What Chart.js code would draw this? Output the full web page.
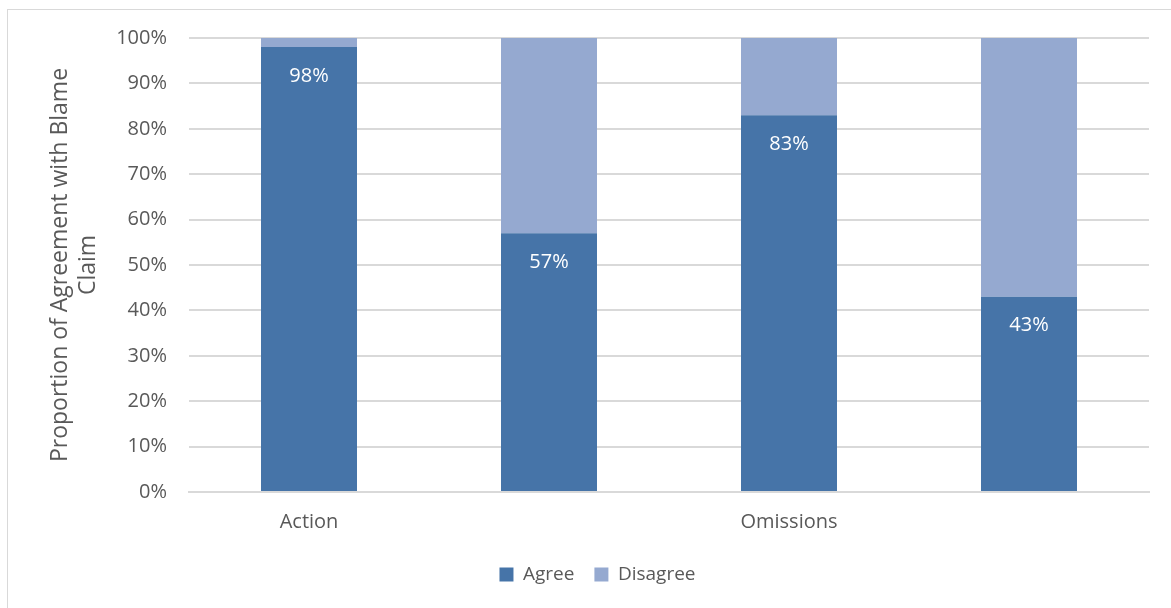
<!DOCTYPE html>
<html>
<head>
<meta charset="utf-8">
<script src="https://cdn.jsdelivr.net/npm/chart.js@4/dist/chart.umd.min.js"></script>
<style>
    body { margin: 0; background: #fff; overflow: hidden; }
    #frame { position: absolute; left: 7px; top: 9px; width: 1180px; height: 620px; border: 1px solid #d9d9d9; }
    #wrap { position: absolute; left: 0; top: 0; width: 1171px; height: 608px; }
</style>
</head>
<body>
<div id="frame"></div>
<div id="wrap"><canvas id="chart"></canvas></div>
<script>
const categories = ['Action', '', 'Omissions', ''];
const agreeValues = [98, 57, 83, 43];
const disagreeValues = [2, 43, 17, 57];
const yTicks = [0, 10, 20, 30, 40, 50, 60, 70, 80, 90, 100];

const fontFamily = 'Open Sans';
const textColor = '#595959';

// white value labels near the top of each Agree segment
const agreeLabels = {
    id: 'agreeLabels',
    afterDatasetsDraw(chart) {
        const ctx = chart.ctx;
        const meta = chart.getDatasetMeta(0);
        ctx.save();
        ctx.fillStyle = '#ffffff';
        ctx.font = '20px "' + fontFamily + '"';
        ctx.textAlign = 'center';
        ctx.textBaseline = 'middle';
        meta.data.forEach((bar, i) => {
            ctx.fillText(agreeValues[i] + '%', bar.x, bar.y + 29);
        });
        ctx.restore();
    }
};

new Chart(document.getElementById('chart'), {
    type: 'bar',
    data: {
        labels: categories,
        datasets: [
            { label: 'Agree', data: agreeValues, backgroundColor: '#4674a8', borderWidth: 0 },
            { label: 'Disagree', data: disagreeValues, backgroundColor: '#95a9d0', borderWidth: 0 }
        ]
    },
    options: {
        responsive: true,
        maintainAspectRatio: false,
        animation: false,
        layout: { padding: { left: 46, right: 22, top: 38, bottom: 14 } },
        datasets: { bar: { categoryPercentage: 1, barPercentage: 0.4 } },
        scales: {
            x: {
                stacked: true,
                grid: { display: false },
                border: { display: true, color: '#d9d9d9', width: 2 },
                ticks: { color: textColor, font: { family: fontFamily, size: 20 }, padding: 10 },
                afterFit: scale => { scale.height = 53; }
            },
            y: {
                stacked: true,
                min: 0,
                max: 100,
                afterBuildTicks: scale => { scale.ticks = yTicks.map(v => ({ value: v })); },
                grid: { color: '#d9d9d9', lineWidth: 2, drawTicks: false },
                border: { display: false },
                ticks: {
                    color: textColor,
                    font: { family: fontFamily, size: 20 },
                    padding: 22,
                    callback: v => v + '%'
                },
                title: {
                    display: true,
                    text: ['Proportion of Agreement with Blame', 'Claim'],
                    color: textColor,
                    font: { family: fontFamily, size: 23, lineHeight: 28 / 23 },
                    padding: 0
                },
                afterFit: scale => { scale.width = 143; }
            }
        },
        plugins: {
            legend: {
                position: 'bottom',
                labels: {
                    color: textColor,
                    font: { family: fontFamily, size: 19 },
                    boxWidth: 14,
                    boxHeight: 14,
                    padding: 20
                }
            },
            tooltip: { enabled: false }
        }
    },
    plugins: [agreeLabels]
});
</script>
</body>
</html>
